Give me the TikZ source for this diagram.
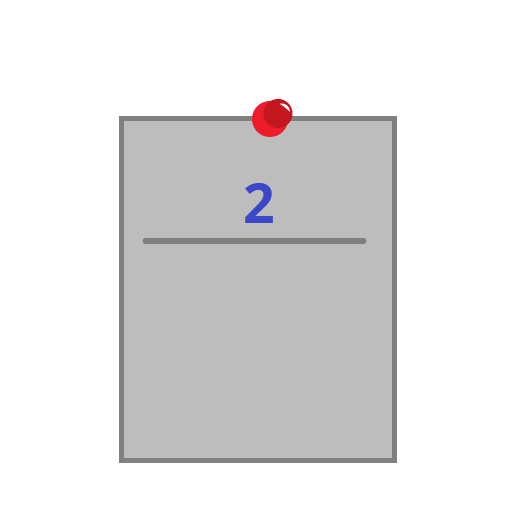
\documentclass[tikz,border=0pt]{standalone}
\usepackage{fontspec}
\setmainfont{Open Sans}
\definecolor{cardgray}{HTML}{BDBDBD}
\definecolor{edgegray}{HTML}{808080}
\definecolor{digitblue}{HTML}{3C46C8}
\definecolor{pinred}{HTML}{ED1C2A}
\definecolor{pindark}{HTML}{C4161F}
\tikzset{
    edgeline/.style={draw=edgegray,line width=2.85pt},
    digit/.style={text=digitblue,font=\bfseries\fontsize{31.5}{36}\selectfont,inner sep=0pt}
}
\begin{document}
\begin{tikzpicture}[x=0.02cm,y=-0.02cm]
    \useasboundingbox (0,0) rectangle (520,520);

    \draw[edgeline,fill=cardgray] (121.5,118.5) rectangle (394.5,460.5);

    \node[digit] (number) at (259,203) {2};

    \coordinate (ruleL) at (145,241);
    \coordinate (ruleR) at (364,241);
    \draw[edgeline,line cap=round] (ruleL) -- (ruleR);

    \fill[pinred] (270,119) circle (18);
    \fill[pindark] (278,113.5) circle (14.5);
    % highlight
    \fill[white] (280,103.5) .. controls (285,102.5) and (290,106.5) .. (290,112)
        .. controls (287.5,109) and (284,106.5) .. (280,104) -- cycle;
\end{tikzpicture}
\end{document}
